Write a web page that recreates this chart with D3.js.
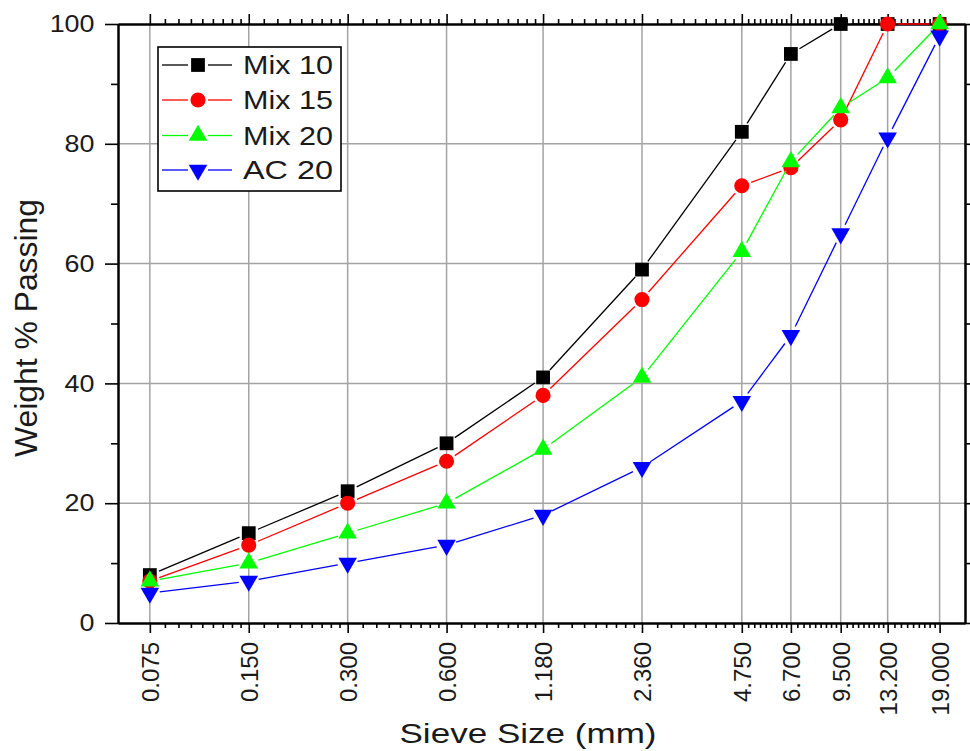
<!DOCTYPE html>
<html>
<head>
<meta charset="utf-8">
<script src="https://cdn.jsdelivr.net/npm/d3@7"></script>
<style>
	body { margin: 0; background: #fff; }
	text { font-family: "Liberation Sans", Arial, sans-serif; fill: #1a1a1a; }
</style>
</head>
<body>
<svg id="chart" width="970" height="751"></svg>
<script>
// sieve sizes (mm) and labels
var sieveSizes = [0.075, 0.15, 0.3, 0.6, 1.18, 2.36, 4.75, 6.7, 9.5, 13.2, 19];
var sieveLabels = ["0.075", "0.150", "0.300", "0.600", "1.180", "2.360", "4.750", "6.700", "9.500", "13.200", "19.000"];

// % passing
var mix10 = [8, 15, 22, 30, 41, 59, 82, 95, 100, 100, 100];
var mix15 = [7, 13, 20, 27, 38, 54, 73, 76, 84, 100, 100];
var mix20 = [7, 10, 15, 20, 29, 41, 62, 77, 86, 91, 100];
var ac20 = [5, 7, 10, 13, 18, 26, 37, 48, 65, 81, 98];

var seriesNames = ["Mix 10", "Mix 15", "Mix 20", "AC 20"];
var yMajor = [0, 20, 40, 60, 80, 100];
var yMinor = [10, 30, 50, 70, 90];

var seriesColors = ["#000000", "#ff0000", "#00ff00", "#0000ff"];
var seriesShapes = ["square", "circle", "up", "down"];

// plot box ("top" is taken by window.top, so prefix everything)
var plotLeft = 118, plotRight = 965, plotTop = 24, plotBottom = 623;

var svg = d3.select("#chart");

var xScale = d3.scaleLog().domain([0.06, 22.7]).range([plotLeft, plotRight]);
var yScale = d3.scaleLinear().domain([0, 100]).range([plotBottom, plotTop]);

// minor ticks: 8 evenly spaced between each pair of labelled sizes (Origin style)
var xMinor = [];
for (var i = 0; i < sieveSizes.length - 1; i++) {
	var a = sieveSizes[i], b = sieveSizes[i + 1];
	for (var j = 1; j < 9; j++) xMinor.push(a + ((b - a) * j) / 9);
}

// grid
var grid = svg.append("g").attr("stroke", "#a3a3a3").attr("stroke-width", 1.5);
grid.selectAll(".gx")
	.data(sieveSizes)
	.enter()
	.append("line")
	.attr("x1", function (d) { return xScale(d); })
	.attr("x2", function (d) { return xScale(d); })
	.attr("y1", plotTop)
	.attr("y2", plotBottom);
grid.selectAll(".gy")
	.data([20, 40, 60, 80])
	.enter()
	.append("line")
	.attr("x1", plotLeft)
	.attr("x2", plotRight)
	.attr("y1", function (d) { return yScale(d); })
	.attr("y2", function (d) { return yScale(d); });

function styleAxis(g) {
	g.select(".domain").attr("stroke", "#000").attr("stroke-width", 2);
	g.selectAll(".tick line").attr("stroke", "#000").attr("stroke-width", 1.6);
}

// x axes (bottom + top), major and minor
svg.append("g")
	.attr("transform", "translate(0," + plotBottom + ")")
	.call(d3.axisBottom(xScale).tickValues(xMinor).tickSize(5).tickSizeOuter(0).tickFormat(""))
	.call(styleAxis);
var xAxisG = svg.append("g")
	.attr("transform", "translate(0," + plotBottom + ")")
	.call(d3.axisBottom(xScale).tickValues(sieveSizes).tickSize(10).tickSizeOuter(0)
		.tickFormat(function (d, i) { return sieveLabels[i]; }))
	.call(styleAxis);
xAxisG.selectAll(".tick text")
	.attr("transform", "rotate(-90)")
	.attr("x", -19)
	.attr("y", 0)
	.attr("dy", "0.36em")
	.style("text-anchor", "end")
	.style("font-size", "24px")
	.style("font-family", "Liberation Sans, Arial, sans-serif")
	.attr("fill", "#1a1a1a");

svg.append("g")
	.attr("transform", "translate(0," + plotTop + ")")
	.call(d3.axisTop(xScale).tickValues(xMinor).tickSize(5).tickSizeOuter(0).tickFormat(""))
	.call(styleAxis);
svg.append("g")
	.attr("transform", "translate(0," + plotTop + ")")
	.call(d3.axisTop(xScale).tickValues(sieveSizes).tickSize(10).tickSizeOuter(0).tickFormat(""))
	.call(styleAxis);

// y axes (left + right)
svg.append("g")
	.attr("transform", "translate(" + plotLeft + ",0)")
	.call(d3.axisLeft(yScale).tickValues(yMinor).tickSize(7).tickSizeOuter(0).tickFormat(""))
	.call(styleAxis);
var yAxisG = svg.append("g")
	.attr("transform", "translate(" + plotLeft + ",0)")
	.call(d3.axisLeft(yScale).tickValues(yMajor).tickSize(13).tickSizeOuter(0))
	.call(styleAxis);
yAxisG.selectAll(".tick text")
	.attr("x", -21)
	.attr("transform", "scale(1.12,1)")
	.style("font-size", "24px")
	.style("font-family", "Liberation Sans, Arial, sans-serif")
	.attr("fill", "#1a1a1a");

svg.append("g")
	.attr("transform", "translate(" + plotRight + ",0)")
	.call(d3.axisRight(yScale).tickValues(yMinor).tickSize(5).tickSizeOuter(0).tickFormat(""))
	.call(styleAxis);
svg.append("g")
	.attr("transform", "translate(" + plotRight + ",0)")
	.call(d3.axisRight(yScale).tickValues(yMajor).tickSize(10).tickSizeOuter(0).tickFormat(""))
	.call(styleAxis);

// axis titles
svg.append("text")
	.attr("x", 528)
	.attr("y", 743)
	.attr("text-anchor", "middle")
	.attr("textLength", 257)
	.attr("lengthAdjust", "spacingAndGlyphs")
	.style("font-size", "28px")
	.text("Sieve Size (mm)");

svg.append("text")
	.attr("transform", "translate(37,328) rotate(-90)")
	.attr("text-anchor", "middle")
	.attr("textLength", 258)
	.attr("lengthAdjust", "spacingAndGlyphs")
	.style("font-size", "31px")
	.text("Weight % Passing");

// markers
function markerPath(shape) {
	if (shape == "square") return d3.symbol().type(d3.symbolSquare).size(190)();
	if (shape == "circle") return d3.symbol().type(d3.symbolCircle).size(180)();
	return d3.symbol().type(d3.symbolTriangle).size(150)();
}
function markerTransform(shape, x, y) {
	if (shape == "down") return "translate(" + x + "," + y + ") rotate(180)";
	return "translate(" + x + "," + y + ")";
}

// line segments with a gap next to each marker
function drawSeries(values, idx) {
	var color = seriesColors[idx];
	var shape = seriesShapes[idx];
	var g = svg.append("g").attr("class", "series");
	var pts = values.map(function (v, i) {
		return [xScale(sieveSizes[i]), yScale(v)];
	});
	var gap = 10;
	for (var k = 0; k < pts.length - 1; k++) {
		var p = pts[k], q = pts[k + 1];
		var dx = q[0] - p[0], dy = q[1] - p[1];
		var len = Math.sqrt(dx * dx + dy * dy);
		if (len <= gap * 2) continue;
		var ux = dx / len, uy = dy / len;
		g.append("line")
			.attr("x1", p[0] + ux * gap)
			.attr("y1", p[1] + uy * gap)
			.attr("x2", q[0] - ux * gap)
			.attr("y2", q[1] - uy * gap)
			.attr("stroke", color)
			.attr("stroke-width", 1.3);
	}
	g.selectAll("path")
		.data(pts)
		.enter()
		.append("path")
		.attr("d", markerPath(shape))
		.attr("transform", function (d) { return markerTransform(shape, d[0], d[1]); })
		.attr("fill", color);
}

drawSeries(mix10, 0);
drawSeries(mix15, 1);
drawSeries(mix20, 2);
drawSeries(ac20, 3);

// legend
var legend = svg.append("g");
legend.append("rect")
	.attr("x", 158)
	.attr("y", 47)
	.attr("width", 183)
	.attr("height", 144)
	.attr("fill", "#fff")
	.attr("stroke", "#000")
	.attr("stroke-width", 1.6);

var legendRows = [65, 100, 135.5, 170];
seriesNames.forEach(function (name, i) {
	var y = legendRows[i];
	legend.append("line")
		.attr("x1", 162).attr("x2", 188)
		.attr("y1", y).attr("y2", y)
		.attr("stroke", seriesColors[i]).attr("stroke-width", 1.3);
	legend.append("line")
		.attr("x1", 208).attr("x2", 232)
		.attr("y1", y).attr("y2", y)
		.attr("stroke", seriesColors[i]).attr("stroke-width", 1.3);
	legend.append("path")
		.attr("d", markerPath(seriesShapes[i]))
		.attr("transform", markerTransform(seriesShapes[i], 198, y))
		.attr("fill", seriesColors[i]);
	legend.append("text")
		.attr("x", 243)
		.attr("y", y + 9)
		.attr("textLength", 90)
		.attr("lengthAdjust", "spacingAndGlyphs")
		.style("font-size", "26px")
		.text(name);
});
</script>
</body>
</html>
